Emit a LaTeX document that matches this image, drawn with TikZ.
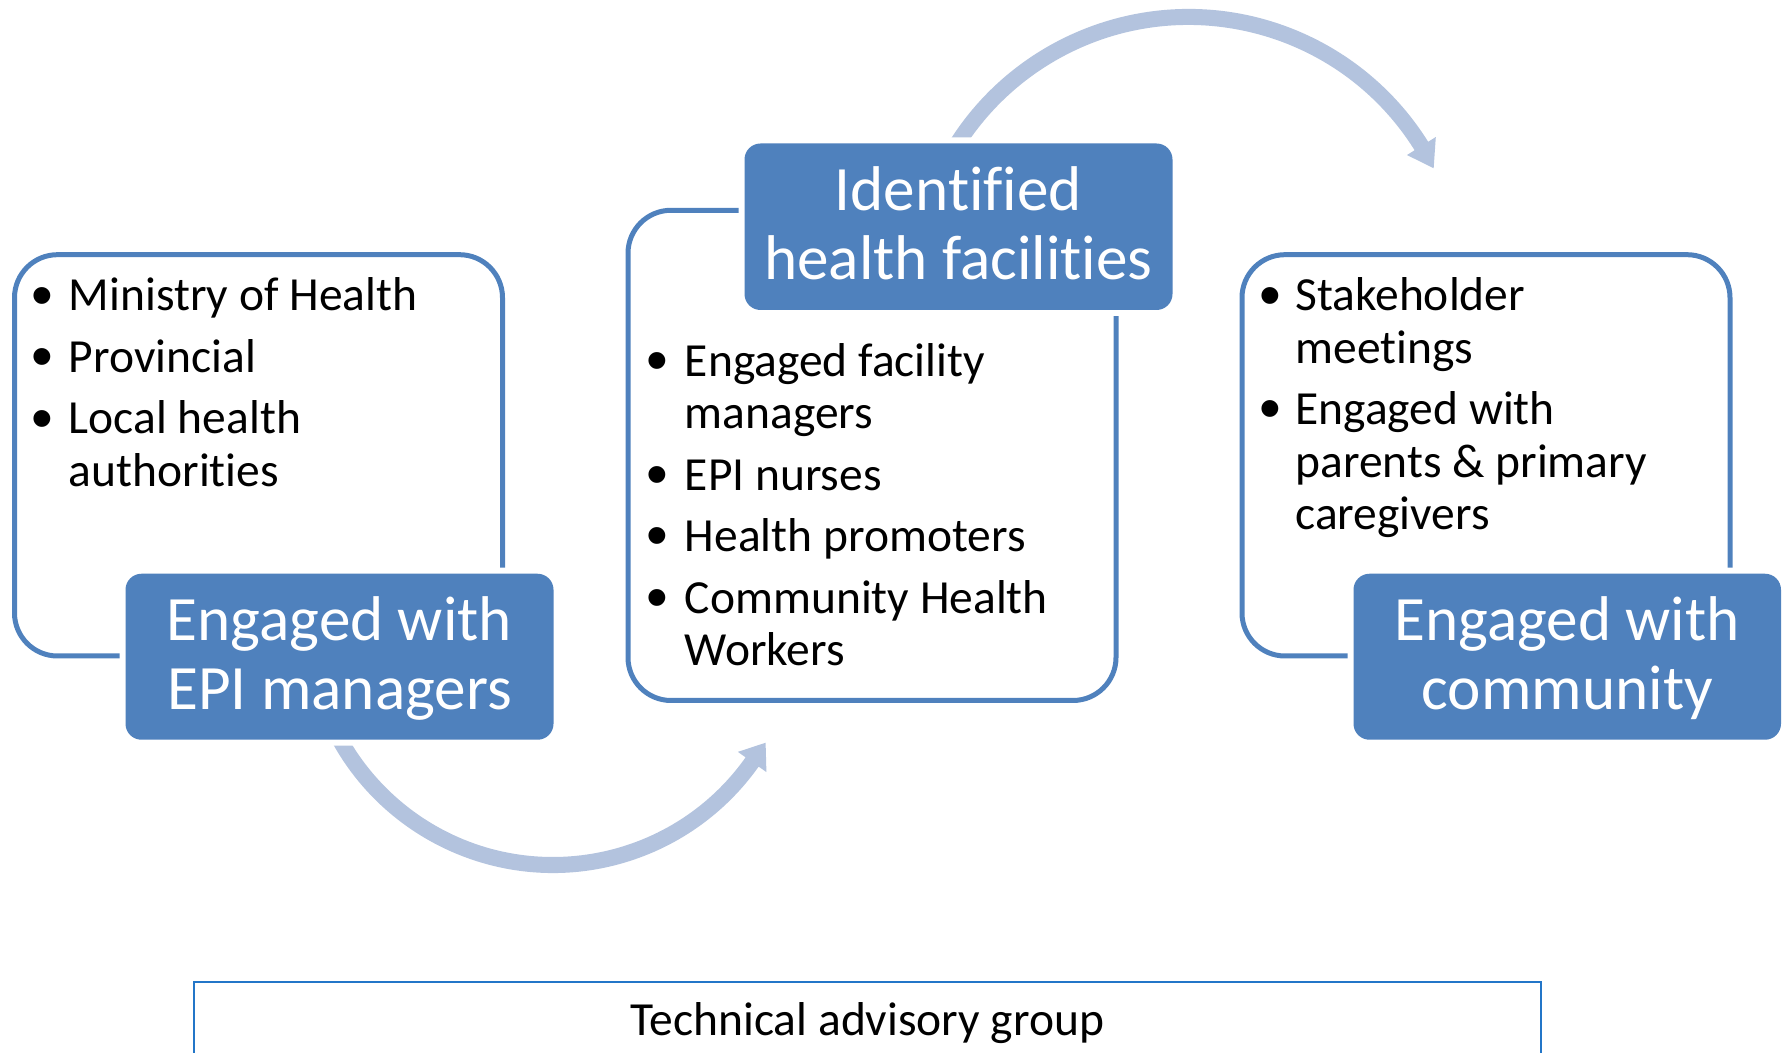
\documentclass[tikz,border=0pt]{standalone}
\usepackage{fontspec}
\setmainfont{Carlito}[Ligatures=NoCommon]
\newfontfamily\bulletfont{Liberation Sans}
\definecolor{dkblue}{RGB}{79,129,189}
\definecolor{arrowc}{RGB}{179,195,222}
\definecolor{tagblue}{RGB}{35,118,200}
\begin{document}
\begin{tikzpicture}[x=0.5pt,y=0.5pt,
  whitebox/.style={draw=dkblue, line width=2.5pt, rounded corners=21.5pt, inner sep=0pt, minimum width=244pt},
  darkbox/.style={fill=dkblue, rounded corners=8pt, inner sep=0pt, minimum width=214pt, minimum height=83pt, preaction={draw=white, line width=6pt}},
  body/.style={anchor=base west, inner sep=0pt, font=\fontsize{23.75pt}{26pt}\selectfont, text=black},
  bul/.style={anchor=base, inner sep=0pt, yshift=-2.6pt, font=\bulletfont\fontsize{31pt}{34pt}\selectfont, text=black},
  head/.style={anchor=base, inner sep=0pt, text=white, font=\fontsize{31.6pt}{34pt}\selectfont},
  tagbox/.style={draw=tagblue, line width=1pt, inner sep=0pt, minimum width=673.5pt, minimum height=75.65pt},
]
\useasboundingbox (0,0) rectangle (1784,1053);
\clip (0,0) rectangle (1784,1053);

% circular arrows
\coordinate (c1) at (553,432);
\coordinate (c2) at (1188.6,761.5);
\begin{scope}[shift={(c1)}]
\fill[arrowc] (199:252) arc[start angle=199, end angle=324.7, radius=252]
  -- (324.7:261.5) -- (330.2:245) -- (324.7:226.5) -- (324.7:236)
  arc[start angle=324.7, end angle=199, radius=236] -- cycle;
\end{scope}
\begin{scope}[shift={(c2)}]
\fill[arrowc] (156:282.5) arc[start angle=156, end angle=32, radius=282.5]
  -- (32:291.5) -- (26.7:274.3) -- (32:257.5) -- (32:266.5)
  arc[start angle=32, end angle=156, radius=266.5] -- cycle;
\end{scope}

% white boxes
\node[whitebox, minimum height=200.65pt] (wl) at (258.5,597.65) {};
\node[whitebox, minimum height=245.1pt] (wm) at (872,597.6) {};
\node[whitebox, minimum height=200.65pt] (wr) at (1486,597.65) {};

% dark boxes
\node[darkbox] (dl) at (339.5,396.25) {};
\node[darkbox, minimum height=83.25pt] (dm) at (958.5,826.25) {};
\node[darkbox, minimum width=213.75pt] (dr) at (1567.25,396.25) {};

% headers
\node[head] (hl1) at (339.5,412) {Engaged with};
\node[head] (hl2) at (339.5,343) {EPI managers};
\node[head] (hm1) at (958.5,842.5) {Identified};
\node[head] (hm2) at (958.5,773.7) {health facilities};
\node[head] (hr1) at (1567.25,412) {Engaged with};
\node[head] (hr2) at (1567.25,343) {community};

% left list
\node[bul] (lb1) at (42.2,742) {•};
\node[bul] (lb2) at (42.2,680.5) {•};
\node[bul] (lb3) at (42.2,619) {•};
\node[body] (lt1) at (68.5,742) {Ministry of Health};
\node[body] (lt2) at (68.5,680.5) {Provincial};
\node[body] (lt3) at (68.5,619) {Local health};
\node[body] (lt4) at (68.5,566.7) {authorities};

% middle list
\node[bul] (mb1) at (657,676.5) {•};
\node[bul] (mb2) at (657,562.7) {•};
\node[bul] (mb3) at (657,501.2) {•};
\node[bul] (mb4) at (657,439.7) {•};
\node[body] (mt1) at (684.5,676.5) {Engaged facility};
\node[body] (mt2) at (684.5,624.2) {managers};
\node[body] (mt3) at (684.5,562.7) {EPI nurses};
\node[body] (mt4) at (684.5,501.2) {Health promoters};
\node[body] (mt5) at (684.5,439.7) {Community Health};
\node[body] (mt6) at (684.5,387.4) {Workers};

% right list
\node[bul] (rb1) at (1270,742) {•};
\node[bul] (rb2) at (1270,628.2) {•};
\node[body] (rt1) at (1295,742) {Stakeholder};
\node[body] (rt2) at (1295,689.7) {meetings};
\node[body] (rt3) at (1295,628.2) {Engaged with};
\node[body] (rt4) at (1295,575.9) {parents \& primary};
\node[body] (rt5) at (1295,523.6) {caregivers};

% technical advisory group
\node[tagbox] (tag) at (867.5,-4.35) {};
\node[body, anchor=base] (tagt) at (867.5,17) {Technical advisory group};
\end{tikzpicture}
\end{document}
